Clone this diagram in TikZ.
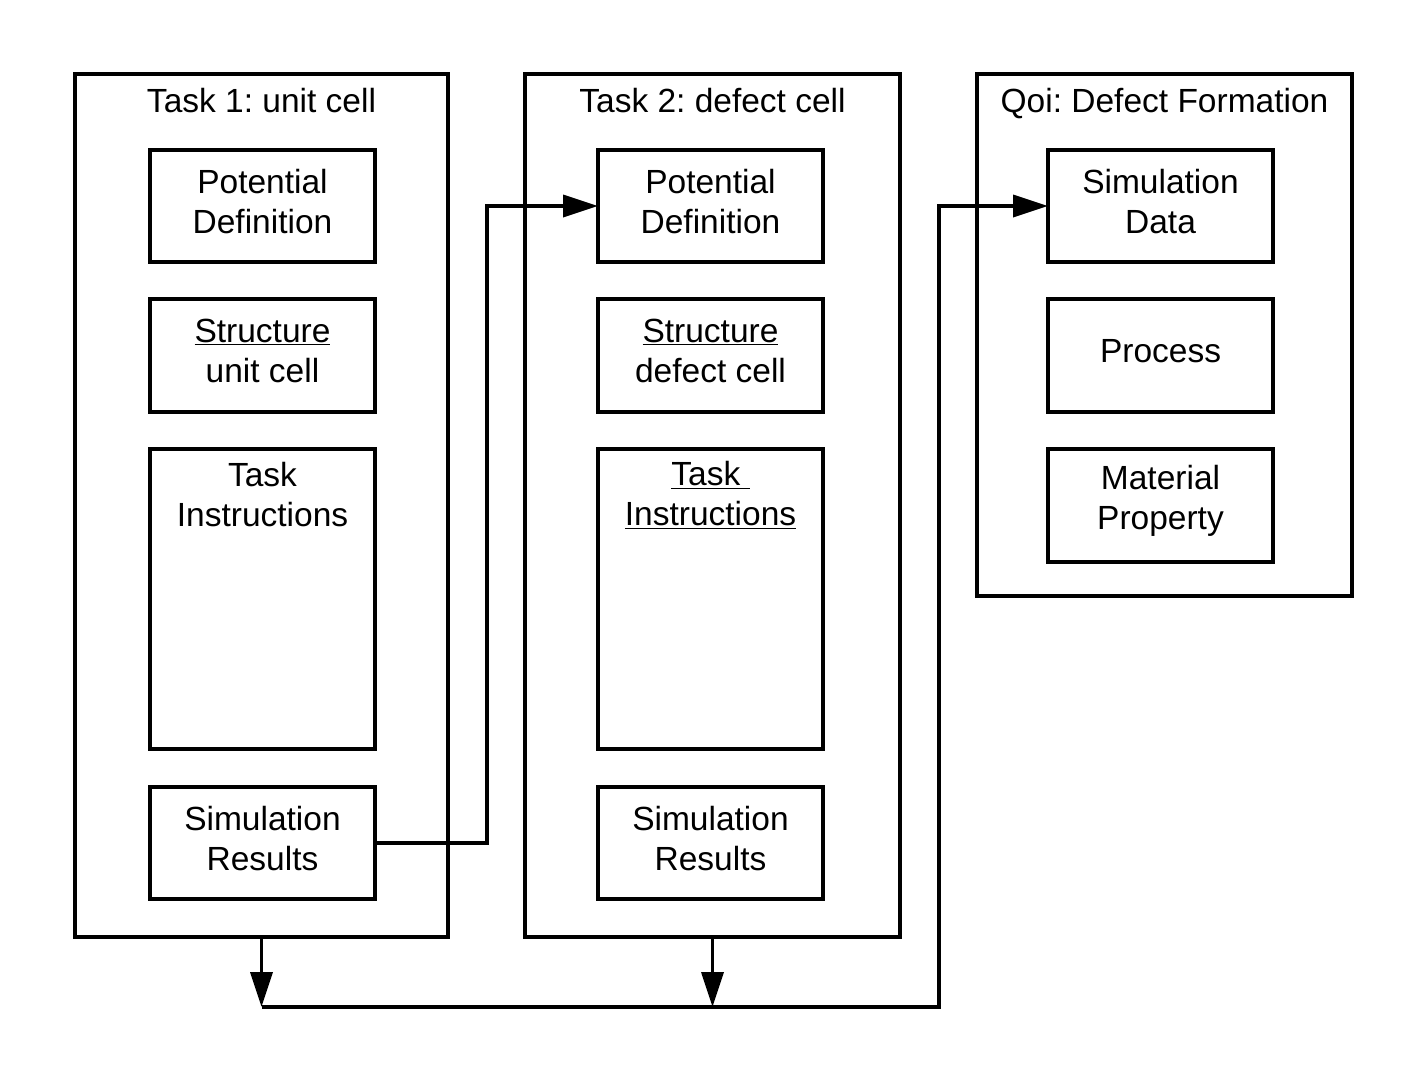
\documentclass[tikz,border=0pt]{standalone}
\usepackage{fontspec}
\setmainfont{Liberation Sans}
\usetikzlibrary{arrows.meta}
\frenchspacing
\begin{document}
\begin{tikzpicture}[x=1pt,y=-1pt,
  every node/.style={font=\fontsize{33.5}{40}\selectfont},
  frame/.style={draw,line width=3.5pt,inner sep=0pt,outer sep=0pt,anchor=north west},
  lbl/.style={align=center,inner sep=0pt},
  clbl/.style={lbl,yshift=4.5pt},
  ttl/.style={inner sep=0pt,anchor=base},
  arr/.style={line width=3.5pt,-{Triangle[length=35pt,width=22pt]}},
  wire/.style={line width=3.5pt}]
\useasboundingbox (0,0) rectangle (1427,1084);
% outer containers
\node[frame,minimum width=373pt,minimum height=863pt] (t1) at (75,74) {};
\node[frame,minimum width=375pt,minimum height=863pt] (t2) at (525,74) {};
\node[frame,minimum width=375pt,minimum height=522pt] (t3) at (977,74) {};
\node[ttl] (t1t) at (261.5,112) {Task 1: unit cell};
\node[ttl] (t2t) at (712.5,112) {Task 2: defect cell};
\node[ttl] (t3t) at (1164.5,112) {Qoi: Defect Formation};
% column 1
\node[frame,minimum width=225pt,minimum height=112pt] (pd1) at (150,150) {};
\node[clbl] at (pd1.center) {Potential\\Definition};
\node[frame,minimum width=225pt,minimum height=113pt] (st1) at (150,299) {};
\node[clbl] at (st1.center) {\underline{Structure}\\unit cell};
\node[frame,minimum width=225pt,minimum height=300pt] (ti1) at (150,449) {};
\node[lbl] (ti1t) at (262.5,495) {Task\\Instructions};
\node[frame,minimum width=225pt,minimum height=112pt] (sr1) at (150,787) {};
\node[clbl] at (sr1.center) {Simulation\\Results};
% column 2
\node[frame,minimum width=225pt,minimum height=112pt] (pd2) at (598,150) {};
\node[clbl] at (pd2.center) {Potential\\Definition};
\node[frame,minimum width=225pt,minimum height=113pt] (st2) at (598,299) {};
\node[clbl] at (st2.center) {\underline{Structure}\\defect cell};
\node[frame,minimum width=225pt,minimum height=300pt] (ti2) at (598,449) {};
\node[lbl] (ti2t) at (710.5,495) {\underline{Task\ }\\\underline{Instructions}};
\node[frame,minimum width=225pt,minimum height=112pt] (sr2) at (598,787) {};
\node[clbl] at (sr2.center) {Simulation\\Results};
% column 3
\node[frame,minimum width=225pt,minimum height=112pt] (sd3) at (1048,150) {};
\node[clbl] at (sd3.center) {Simulation\\Data};
\node[frame,minimum width=225pt,minimum height=113pt] (pr3) at (1048,299) {};
\node[clbl] at (pr3.center) {Process};
\node[frame,minimum width=225pt,minimum height=113pt] (mp3) at (1048,449) {};
\node[clbl] at (mp3.center) {Material\\Property};
% connectors
\coordinate (j1) at (487,843);
\coordinate (b1) at (261.5,1007);
\coordinate (b2) at (712.5,1007);
\coordinate (b3) at (939,1007);
\draw[arr] (sr1.east) -- (j1) |- (pd2.west);
\draw[arr] (t1.south) -- (b1);
\draw[arr] (t2.south) -- (b2);
\draw[arr] (b1) -- (b3) |- (sd3.west);
\end{tikzpicture}
\end{document}
